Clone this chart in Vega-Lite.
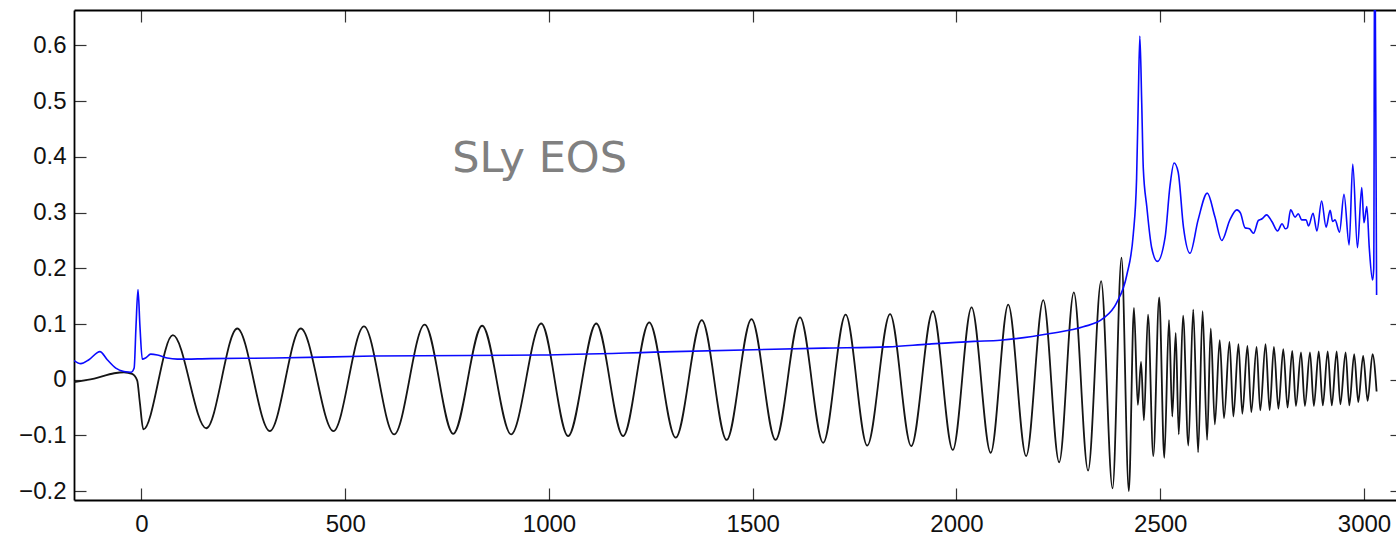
{
  "$schema": "https://vega.github.io/schema/vega-lite/v6.json",
  "width": 1322,
  "height": 490,
  "autosize": "none",
  "padding": {"left": 74, "top": 10, "right": 0, "bottom": 39},
  "background": "white",
  "config": {
    "view": {"stroke": null},
    "axis": {
      "grid": false,
      "title": null,
      "labelFont": "Liberation Sans",
      "labelFontSize": 24,
      "labelColor": "#111111",
      "tickColor": "#333333",
      "tickWidth": 1.2,
      "tickSize": -12,
      "domainColor": "#000000",
      "domainWidth": 1.8
    }
  },
  "datasets": {
    "waveform": [
      {"t": -165.6, "v": -0.004}, {"t": -116, "v": 0.002}, {"t": -67, "v": 0.0117}, {"t": -43, "v": 0.0135},
      {"t": -23, "v": 0.0105}, {"t": -10.6, "v": -0.001}, {"t": -4, "v": -0.041}, {"t": 4.5, "v": -0.089},
      {"t": 77, "v": 0.080}, {"t": 159, "v": -0.087}, {"t": 235, "v": 0.092}, {"t": 315, "v": -0.092},
      {"t": 391, "v": 0.092}, {"t": 471, "v": -0.092}, {"t": 546, "v": 0.096}, {"t": 620, "v": -0.098},
      {"t": 695, "v": 0.099}, {"t": 765, "v": -0.097}, {"t": 836, "v": 0.097}, {"t": 907, "v": -0.098},
      {"t": 981, "v": 0.101}, {"t": 1047, "v": -0.101}, {"t": 1116, "v": 0.101}, {"t": 1182, "v": -0.101},
      {"t": 1246, "v": 0.103}, {"t": 1311, "v": -0.104}, {"t": 1375, "v": 0.107}, {"t": 1436, "v": -0.108},
      {"t": 1497, "v": 0.109}, {"t": 1556, "v": -0.108}, {"t": 1616, "v": 0.112}, {"t": 1673, "v": -0.113},
      {"t": 1728, "v": 0.117}, {"t": 1781, "v": -0.118}, {"t": 1837, "v": 0.118}, {"t": 1889, "v": -0.119},
      {"t": 1942, "v": 0.123}, {"t": 1991, "v": -0.126}, {"t": 2037, "v": 0.130}, {"t": 2084, "v": -0.131},
      {"t": 2127, "v": 0.135}, {"t": 2171, "v": -0.137}, {"t": 2213, "v": 0.143}, {"t": 2252, "v": -0.148},
      {"t": 2288, "v": 0.157}, {"t": 2323, "v": -0.163}, {"t": 2355, "v": 0.177}, {"t": 2383, "v": -0.195},
      {"t": 2405, "v": 0.219}, {"t": 2423, "v": -0.200}, {"t": 2435.6, "v": 0.129}, {"t": 2445, "v": -0.045},
      {"t": 2453, "v": 0.032}, {"t": 2460, "v": -0.073}, {"t": 2470, "v": 0.117}, {"t": 2483, "v": -0.137},
      {"t": 2497.5, "v": 0.148}, {"t": 2510, "v": -0.140}, {"t": 2521.5, "v": 0.107}, {"t": 2529.6, "v": -0.066},
      {"t": 2538, "v": 0.084}, {"t": 2545.5, "v": -0.098}, {"t": 2556, "v": 0.115}, {"t": 2569, "v": -0.118},
      {"t": 2581, "v": 0.126}, {"t": 2593, "v": -0.130}, {"t": 2604, "v": 0.123}, {"t": 2615, "v": -0.108},
      {"t": 2624, "v": 0.092}, {"t": 2634, "v": -0.080}, {"t": 2646, "v": 0.071}, {"t": 2656.5, "v": -0.069},
      {"t": 2670, "v": 0.068}, {"t": 2679.5, "v": -0.066}, {"t": 2692, "v": 0.064}, {"t": 2701.5, "v": -0.061},
      {"t": 2714, "v": 0.061}, {"t": 2723.5, "v": -0.058}, {"t": 2736.5, "v": 0.059}, {"t": 2745.5, "v": -0.055},
      {"t": 2758.5, "v": 0.064}, {"t": 2768.5, "v": -0.0545}, {"t": 2779, "v": 0.059}, {"t": 2790, "v": -0.052},
      {"t": 2802, "v": 0.055}, {"t": 2812.5, "v": -0.050}, {"t": 2824, "v": 0.052}, {"t": 2833, "v": -0.047},
      {"t": 2845.5, "v": 0.049}, {"t": 2855, "v": -0.047}, {"t": 2867.5, "v": 0.049}, {"t": 2877, "v": -0.047},
      {"t": 2889, "v": 0.051}, {"t": 2899, "v": -0.046}, {"t": 2911, "v": 0.051}, {"t": 2921, "v": -0.046},
      {"t": 2933, "v": 0.051}, {"t": 2942, "v": -0.044}, {"t": 2955, "v": 0.049}, {"t": 2964, "v": -0.046},
      {"t": 2976, "v": 0.046}, {"t": 2986, "v": -0.040}, {"t": 2998, "v": 0.043}, {"t": 3009, "v": -0.038},
      {"t": 3021, "v": 0.046}, {"t": 3031, "v": -0.021}
    ],
    "frequency": [
      {"t": -165.6, "v": 0.0345}, {"t": -149, "v": 0.029}, {"t": -129, "v": 0.036}, {"t": -102, "v": 0.0506},
      {"t": -84, "v": 0.036}, {"t": -63, "v": 0.021}, {"t": -43, "v": 0.015}, {"t": -25, "v": 0.0136},
      {"t": -18, "v": 0.021}, {"t": -13.5, "v": 0.095}, {"t": -8.6, "v": 0.162}, {"t": -3.7, "v": 0.095},
      {"t": 2, "v": 0.037}, {"t": 10, "v": 0.039}, {"t": 22.5, "v": 0.046}, {"t": 39, "v": 0.0445},
      {"t": 63, "v": 0.039}, {"t": 88, "v": 0.037}, {"t": 169, "v": 0.038}, {"t": 325, "v": 0.039},
      {"t": 570, "v": 0.0426}, {"t": 980, "v": 0.0445}, {"t": 1307, "v": 0.0506}, {"t": 1675, "v": 0.0568},
      {"t": 1832, "v": 0.059}, {"t": 1930, "v": 0.064}, {"t": 2043, "v": 0.069}, {"t": 2107, "v": 0.071},
      {"t": 2230, "v": 0.083}, {"t": 2311, "v": 0.095}, {"t": 2360, "v": 0.110}, {"t": 2393, "v": 0.138},
      {"t": 2418, "v": 0.188}, {"t": 2434, "v": 0.262}, {"t": 2442, "v": 0.361}, {"t": 2446, "v": 0.497},
      {"t": 2450, "v": 0.617}, {"t": 2454.6, "v": 0.497}, {"t": 2458.5, "v": 0.379}, {"t": 2467, "v": 0.311},
      {"t": 2479, "v": 0.237}, {"t": 2493, "v": 0.2125}, {"t": 2512, "v": 0.256}, {"t": 2524, "v": 0.348},
      {"t": 2534, "v": 0.389}, {"t": 2544, "v": 0.373}, {"t": 2557, "v": 0.274}, {"t": 2573, "v": 0.227},
      {"t": 2593, "v": 0.287}, {"t": 2615.5, "v": 0.335}, {"t": 2634, "v": 0.293}, {"t": 2651, "v": 0.250},
      {"t": 2671, "v": 0.287}, {"t": 2688, "v": 0.305}, {"t": 2697, "v": 0.299}, {"t": 2708, "v": 0.273},
      {"t": 2719, "v": 0.271}, {"t": 2729, "v": 0.263}, {"t": 2741, "v": 0.286}, {"t": 2750, "v": 0.289},
      {"t": 2761, "v": 0.296}, {"t": 2774, "v": 0.284}, {"t": 2788, "v": 0.267}, {"t": 2799, "v": 0.280},
      {"t": 2807, "v": 0.271}, {"t": 2812, "v": 0.273}, {"t": 2820, "v": 0.305}, {"t": 2831, "v": 0.292},
      {"t": 2839, "v": 0.298}, {"t": 2847, "v": 0.287}, {"t": 2858, "v": 0.287}, {"t": 2864, "v": 0.276},
      {"t": 2875, "v": 0.299}, {"t": 2884.5, "v": 0.267}, {"t": 2896, "v": 0.321}, {"t": 2907, "v": 0.274},
      {"t": 2917, "v": 0.304}, {"t": 2923, "v": 0.284}, {"t": 2929, "v": 0.287}, {"t": 2940, "v": 0.265},
      {"t": 2951, "v": 0.333}, {"t": 2963.6, "v": 0.242}, {"t": 2972.5, "v": 0.387}, {"t": 2984, "v": 0.237},
      {"t": 2994.5, "v": 0.345}, {"t": 3000, "v": 0.282}, {"t": 3007, "v": 0.311}, {"t": 3013, "v": 0.237},
      {"t": 3021, "v": 0.179}, {"t": 3024, "v": 0.2}, {"t": 3026.5, "v": 0.9}, {"t": 3031, "v": 0.152}
    ]
  },
  "layer": [
    {
      "data": {"name": "waveform"},
      "mark": {"type": "line", "interpolate": "monotone", "color": "#151515", "strokeWidth": 1.8, "clip": true},
      "encoding": {
        "x": {
          "field": "t", "type": "quantitative",
          "scale": {"domain": [-165.6, 3078.6], "nice": false, "zero": false},
          "axis": {"orient": "bottom", "values": [0, 500, 1000, 1500, 2000, 2500, 3000], "format": "d", "labelPadding": 24}
        },
        "y": {
          "field": "v", "type": "quantitative",
          "scale": {"domain": [-0.2158, 0.6637], "nice": false, "zero": false},
          "axis": {"orient": "left", "values": [-0.2, -0.1, 0, 0.1, 0.2, 0.3, 0.4, 0.5, 0.6], "format": "~g", "labelPadding": 20}
        }
      }
    },
    {
      "data": {"name": "frequency"},
      "mark": {"type": "line", "interpolate": "monotone", "color": "#0a0aff", "strokeWidth": 1.6, "clip": true},
      "encoding": {
        "x": {
          "field": "t", "type": "quantitative",
          "axis": {"orient": "top", "values": [0, 500, 1000, 1500, 2000, 2500, 3000], "labels": false}
        },
        "y": {
          "field": "v", "type": "quantitative",
          "axis": {"orient": "right", "values": [-0.2, -0.1, 0, 0.1, 0.2, 0.3, 0.4, 0.5, 0.6], "labels": false, "domain": false, "offset": 6}
        }
      }
    },
    {
      "data": {"values": [{"t": 977, "v": 0.373, "label": "SLy EOS"}]},
      "mark": {"type": "text", "align": "center", "baseline": "alphabetic", "font": "Comic Sans MS, DejaVu Sans", "fontSize": 43, "color": "#808080"},
      "encoding": {
        "x": {"field": "t", "type": "quantitative", "axis": null},
        "y": {"field": "v", "type": "quantitative", "axis": null},
        "text": {"field": "label"}
      }
    }
  ],
  "resolve": {"axis": {"x": "independent", "y": "independent"}}
}
